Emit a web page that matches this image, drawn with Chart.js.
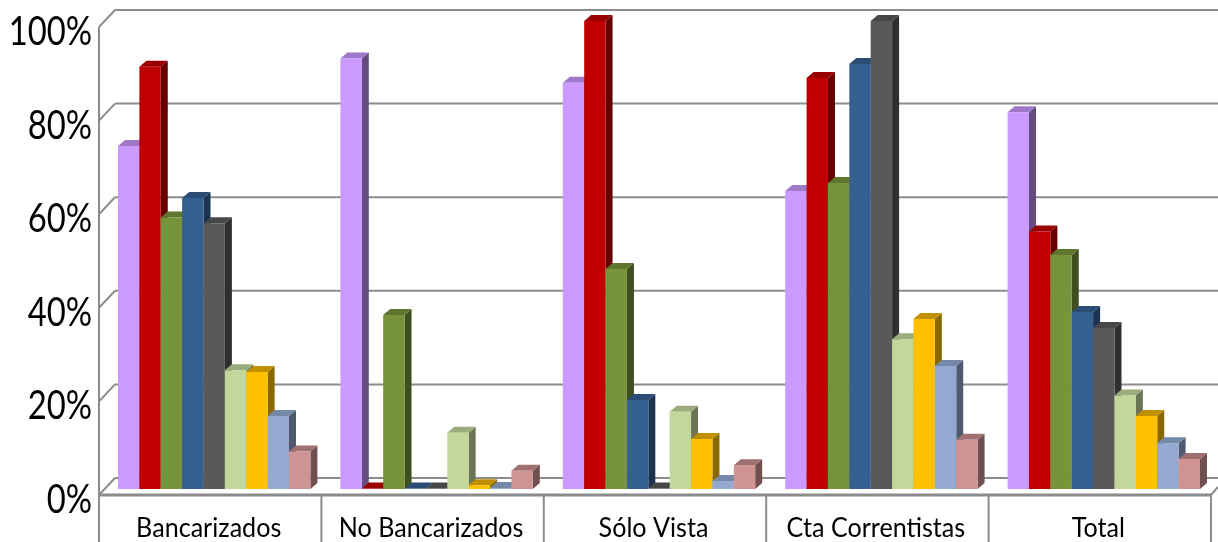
<!DOCTYPE html>
<html>
<head>
<meta charset="utf-8">
<script src="https://cdn.jsdelivr.net/npm/chart.js@4"></script>
<style>
  html, body { margin: 0; padding: 0; background: #fff; overflow: hidden; }
  canvas { display: block; }
</style>
</head>
<body>
<canvas id="myChart" width="1218" height="542"></canvas>
<script>
'use strict';

var categories = ['Bancarizados', 'No Bancarizados', 'Sólo Vista', 'Cta Correntistas', 'Total'];

var serie1 = [73.3, 92, 86.8, 63.7, 80.5];
var serie2 = [90.2, 0.1, 100, 87.8, 55];
var serie3 = [58, 37.2, 47, 65.4, 50];
var serie4 = [62.2, 0.1, 19, 90.8, 37.8];
var serie5 = [56.8, 0.1, 0.1, 100, 34.4];
var serie6 = [25.4, 12, 16.5, 32, 20];
var serie7 = [25, 0.8, 10.7, 36.3, 15.6];
var serie8 = [15.6, 0.2, 1.7, 26.3, 9.8];
var serie9 = [8, 3.9, 5.1, 10.5, 6.4];
var series = [serie1, serie2, serie3, serie4, serie5, serie6, serie7, serie8, serie9];

var frontColors = ['#CC99FF', '#C00000', '#77933C', '#366092', '#595959', '#C3D69B', '#FFC000', '#95A9D0', '#D09393'];
var topColors = ['#A078C8', '#990000', '#5F7530', '#2B4D75', '#474747', '#9CAB7C', '#C09000', '#7488A8', '#A07070'];
var sideColors = ['#664B80', '#660000', '#3F4F1F', '#1C3350', '#2F2F2F', '#6B7555', '#8A6800', '#4F5A6F', '#6F4F4F'];

var gridColor = '#8C8C8C';

// Depth of the bars, and of the walls relative to the value scale
var barDx = 7, barDy = 6;
var wallDx = 16, frontDy = 6, backDy = -11;
var shiftX = -4; // floor sits a little left of the bars

function poly(ctx, pts, color) {
  ctx.fillStyle = color;
  ctx.beginPath();
  ctx.moveTo(pts[0][0], pts[0][1]);
  for (var i = 1; i < pts.length; i++) ctx.lineTo(pts[i][0], pts[i][1]);
  ctx.closePath();
  ctx.fill();
}

function seg(ctx, x1, y1, x2, y2) {
  ctx.beginPath();
  ctx.moveTo(x1, y1);
  ctx.lineTo(x2, y2);
  ctx.stroke();
}

// Labels are squeezed sideways, Lato is wider than the original font
function squeezed(ctx, text, x, y, sx, font, align) {
  ctx.save();
  ctx.translate(x, y);
  ctx.scale(sx, 1);
  ctx.font = font;
  ctx.fillStyle = '#000';
  ctx.textAlign = align;
  ctx.textBaseline = 'alphabetic';
  ctx.fillText(text, 0, 0);
  ctx.restore();
}

var box3dPlugin = {
  id: 'box3d',
  beforeDatasetsDraw: function (chart) {
    var ctx = chart.ctx, y = chart.scales.y, x = chart.scales.x;
    var left = chart.chartArea.left + shiftX;
    var right = chart.chartArea.right + shiftX;
    var h = chart.height;
    ctx.save();
    ctx.strokeStyle = gridColor;
    ctx.lineWidth = 2;
    y.ticks.forEach(function (t) {
      var py = y.getPixelForValue(t.value);
      seg(ctx, left, py + frontDy, left + wallDx, py + backDy);
      seg(ctx, left + wallDx, py + backDy, chart.width, py + backDy);
    });
    seg(ctx, left, y.getPixelForValue(100) + frontDy, left, h);
    var floor = y.getPixelForValue(0) + frontDy;
    ctx.lineWidth = 3;
    seg(ctx, left, floor, right, floor);
    ctx.lineWidth = 2;
    seg(ctx, right, floor, chart.width, floor - 8);
    var step = x.width / categories.length;
    for (var i = 1; i <= categories.length; i++) {
      seg(ctx, left + step * i, floor, left + step * i, h);
    }
    ctx.restore();
  },
  // default order paints last series first, here each bar must cover the side of the one before
  beforeDatasetDraw: function () {
    return false;
  },
  afterDatasetsDraw: function (chart) {
    var ctx = chart.ctx;
    series.forEach(function (values, i) {
      chart.getDatasetMeta(i).data.forEach(function (bar) {
        var l = bar.x - bar.width / 2, r = bar.x + bar.width / 2;
        poly(ctx, [[r, bar.y], [r + barDx, bar.y - barDy], [r + barDx, bar.base - barDy], [r, bar.base]], sideColors[i]);
        poly(ctx, [[l, bar.y], [l + barDx, bar.y - barDy], [r + barDx, bar.y - barDy], [r, bar.y]], topColors[i]);
        bar.draw(ctx);
      });
    });
  },
  afterDraw: function (chart) {
    var ctx = chart.ctx, y = chart.scales.y, x = chart.scales.x;
    y.ticks.forEach(function (t) {
      squeezed(ctx, t.value + '%', 92, y.getPixelForValue(t.value) + 24, 0.8, '41px Lato', 'right');
    });
    categories.forEach(function (c, i) {
      squeezed(ctx, c, x.getPixelForValue(i) + shiftX - 1.5, 537, 0.93, '27px Lato', 'center');
    });
  }
};

var datasets = series.map(function (values, i) {
  return {
    label: 'Serie ' + (i + 1),
    data: values,
    backgroundColor: frontColors[i],
    borderWidth: 0,
    barPercentage: 1,
    categoryPercentage: 0.865
  };
});

var ctx = document.getElementById('myChart').getContext('2d');
new Chart(ctx, {
  type: 'bar',
  data: { labels: categories, datasets: datasets },
  plugins: [box3dPlugin],
  options: {
    responsive: false,
    animation: false,
    layout: { padding: { top: 21, right: 3, left: 95, bottom: 45 } },
    plugins: { legend: { display: false }, title: { display: false }, tooltip: { enabled: false } },
    scales: {
      x: {
        grid: { display: false },
        border: { display: false },
        ticks: { display: false }
      },
      y: {
        min: 0,
        max: 100,
        grid: { display: false },
        border: { display: false },
        ticks: { display: false, stepSize: 20 }
      }
    }
  }
});
</script>
</body>
</html>
